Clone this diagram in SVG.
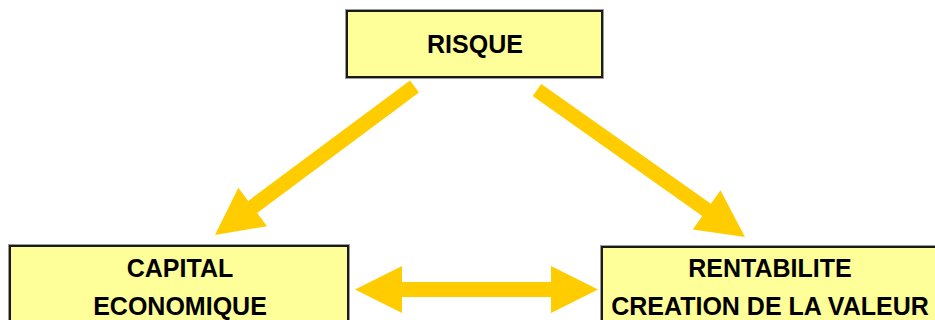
<svg xmlns="http://www.w3.org/2000/svg" width="935" height="320" viewBox="0 0 935 320">
  <style>
    .box { fill: #FFFF99; stroke: #1a1a1a; stroke-width: 2; }
    .halo { fill: none; stroke: #9a9a9a; stroke-width: 4; }
    .lbl { font-family: "Liberation Sans", Arial, sans-serif; font-weight: bold; font-size: 25px; fill: #000; text-anchor: middle; }
    .arrow { fill: #FFCC00; }
  </style>
  <rect width="935" height="320" fill="#ffffff"/>

  <g id="connectors">
    <!-- RISQUE to CAPITAL ECONOMIQUE -->
    <polygon class="arrow" transform="translate(414.5,86.5) rotate(143.34)" points="0,-7.5 201.7,-7.5 201.7,-24 248.7,0 201.7,24 201.7,7.5 0,7.5"/>
    <!-- RISQUE to RENTABILITE -->
    <polygon class="arrow" transform="translate(537,90) rotate(35.25)" points="0,-7.5 207.7,-7.5 207.7,-24 254.7,0 207.7,24 207.7,7.5 0,7.5"/>
    <!-- two-way link between the lower boxes -->
    <polygon class="arrow" points="355,289.5 402,266 402,282 551,282 551,266 598,289.5 551,313 551,297 402,297 402,313"/>
  </g>

  <g id="risque">
    <rect class="halo" x="347" y="11" width="255" height="66"/>
    <rect class="box" x="347" y="11" width="255" height="66"/>
    <text class="lbl" x="475" y="53">RISQUE</text>
  </g>

  <g id="capital">
    <rect class="halo" x="10" y="246" width="338" height="90"/>
    <rect class="box" x="10" y="246" width="338" height="90"/>
    <text class="lbl" x="180" y="277">CAPITAL</text>
    <text class="lbl" x="180" y="315">ECONOMIQUE</text>
  </g>

  <g id="rentabilite">
    <rect class="halo" x="602" y="247" width="340" height="90"/>
    <rect class="box" x="602" y="247" width="340" height="90"/>
    <text class="lbl" x="770" y="277">RENTABILITE</text>
    <text class="lbl" x="770" y="315">CREATION DE LA VALEUR</text>
  </g>
</svg>
